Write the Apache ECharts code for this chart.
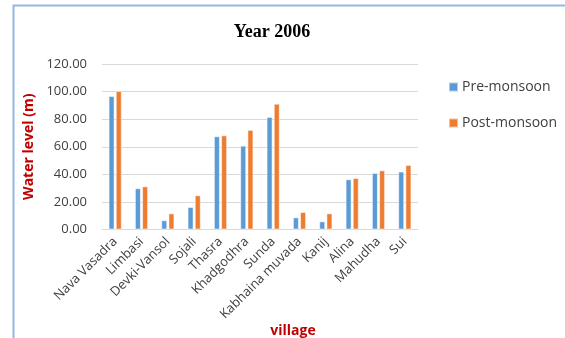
<!DOCTYPE html>
<html>
<head>
<meta charset="utf-8">
<script src="https://cdn.jsdelivr.net/npm/echarts@6/dist/echarts.min.js"></script>
<style>
  html, body { margin: 0; padding: 0; background: #fff; }
  #chart { width: 565px; height: 338px; }
</style>
</head>
<body>
<div id="chart"></div>
<script>
const villages = ["Nava Vasadra", "Limbasi", "Devki-Vansol", "Sojali", "Thasra", "Khadgodhra",
  "Sunda", "Kabhaina muvada", "Kanij", "Alina", "Mahudha", "Sui"];
const preMonsoon = [96.8, 29.9, 6.7, 16.3, 67.6, 60.8, 81.6, 8.8, 5.9, 36.4, 41.0, 42.0];
const postMonsoon = [100.4, 31.3, 11.7, 24.8, 68.3, 72.2, 91.2, 12.7, 11.7, 37.3, 42.9, 46.8];

const font = "'Open Sans', sans-serif";
const chart = echarts.init(document.getElementById("chart"));

chart.setOption({
  animation: false,
  title: {
    text: "Year 2006",
    left: 267,
    top: 18,
    textAlign: "center",
    textStyle: { fontFamily: "'Liberation Serif', serif", fontSize: 18, fontWeight: "bold", color: "#000" }
  },
  // outer frame of the chart area
  graphic: [{
    type: "rect",
    shape: { x: 13.5, y: 5.5, width: 700, height: 500 },
    style: { fill: "none", stroke: "#92b7e3", lineWidth: 2 },
    silent: true
  }],
  legend: {
    orient: "vertical",
    left: 443,
    top: 75,
    itemWidth: 9,
    itemHeight: 9,
    itemGap: 22,
    icon: "rect",
    textStyle: { fontFamily: font, fontSize: 14, color: "#404040", padding: [0, 0, 0, -1] },
    data: ["Pre-monsoon", "Post-monsoon"]
  },
  grid: { left: 102, right: 147, top: 64, bottom: 108.5, outerBoundsMode: "none" },
  xAxis: {
    type: "category",
    data: villages,
    name: "village",
    nameLocation: "middle",
    nameGap: 83,
    nameTextStyle: { fontFamily: font, fontSize: 14, fontWeight: "bold", color: "#c00000", padding: [0, 0, 0, 66] },
    axisLine: { lineStyle: { color: "#d9d9d9" } },
    axisTick: { show: false },
    axisLabel: { rotate: 45, interval: 0, margin: 10, fontFamily: font, fontSize: 13, color: "#404040" }
  },
  yAxis: {
    type: "value",
    min: 0,
    max: 120,
    interval: 20,
    name: "Water level (m)",
    nameLocation: "middle",
    nameGap: 64,
    nameTextStyle: { fontFamily: font, fontSize: 14, fontWeight: "bold", color: "#c00000" },
    axisLine: { show: false },
    axisTick: { show: false },
    splitLine: { lineStyle: { color: "#d9d9d9" } },
    axisLabel: {
      fontFamily: font, fontSize: 13, color: "#404040", margin: 15,
      formatter: v => v.toFixed(2)
    }
  },
  series: [
    {
      name: "Pre-monsoon",
      type: "bar",
      data: preMonsoon,
      barWidth: 6,
      barGap: "20%",
      itemStyle: { color: "#5b9bd5", borderColor: "rgba(255,255,255,0.5)", borderWidth: 1 }
    },
    {
      name: "Post-monsoon",
      type: "bar",
      data: postMonsoon,
      barWidth: 6,
      itemStyle: { color: "#ed7d31", borderColor: "rgba(255,255,255,0.5)", borderWidth: 1 }
    }
  ]
});
</script>
</body>
</html>
